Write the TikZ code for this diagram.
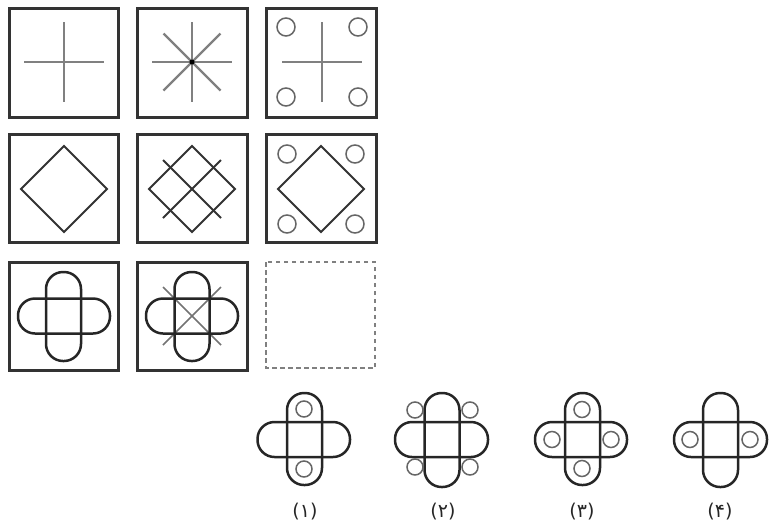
\documentclass[tikz,border=0pt]{standalone}
\usepackage{fontspec}
\newfontfamily\fadigits{DejaVu Sans}
\tikzset{
  frame/.style={draw=black!80, line width=3pt},
  emptyframe/.style={draw=black!50, line width=2.2pt, dash pattern=on 4.5pt off 3.5pt},
  fig/.style={draw=black!80, line width=2pt},
  greyline/.style={draw=black!50, line width=2.2pt},
  thinline/.style={draw=black!55, line width=1.5pt},
  ring/.style={draw=black!60, line width=1.5pt},
  pill/.style={draw=black!85, line width=2.5pt, rounded corners=17pt},
  answer/.style={font=\fadigits\fontsize{19}{22}\selectfont, text=black!85},
}
\begin{document}
\begin{tikzpicture}[x=1pt, y=-1pt]
  \useasboundingbox (0,0) rectangle (784,528);

  % ---- Rada 1 ----
  \draw[frame] (9.5,8) rectangle (118,117);
  \draw[greyline] (24,62) -- (104,62);
  \draw[greyline] (64,22) -- (64,102);
  \draw[frame] (137.5,8) rectangle (247.5,117);
  \draw[greyline] (152,62) -- (232,62);
  \draw[greyline] (192,22) -- (192,102);
  \draw[greyline] (163.5,33.5) -- (220.5,90.5);
  \draw[greyline] (220.5,33.5) -- (163.5,90.5);
  \fill[black] (192,62) circle (2.5);
  \draw[frame] (266,8) rectangle (376.5,117);
  \draw[greyline] (282,62) -- (362,62);
  \draw[greyline] (322,22) -- (322,102);
  \foreach \dx/\dy in {-36/-35,36/-35,-36/35,36/35}
    \draw[ring] (322+\dx,62+\dy) circle (9);

  % ---- Rada 2 ----
  \draw[frame] (9.5,134) rectangle (118,242);
  \draw[fig] (64,146) -- (107,189) -- (64,232) -- (21,189) -- cycle;
  \draw[frame] (137.5,134) rectangle (247.5,242);
  \draw[fig] (192,146) -- (235,189) -- (192,232) -- (149,189) -- cycle;
  \draw[fig] (163,160) -- (221,218);
  \draw[fig] (221,160) -- (163,218);
  \draw[frame] (266,134) rectangle (376.5,242);
  \draw[fig] (321,146) -- (364,189) -- (321,232) -- (278,189) -- cycle;
  \foreach \dx/\dy in {-34/-35,34/-35,-34/35,34/35}
    \draw[ring] (321+\dx,189+\dy) circle (9);

  % ---- Rada 3 ----
  \draw[frame] (9.5,262) rectangle (118,370);
  \draw[pill] (46,272) rectangle (81,361);
  \draw[pill] (18,298.5) rectangle (110,333.5);
  \draw[frame] (137.5,262) rectangle (247.5,370);
  \draw[thinline] (163,287) -- (221,345);
  \draw[thinline] (221,287) -- (163,345);
  \draw[pill] (174.5,272) rectangle (209.5,361);
  \draw[pill] (146,298.5) rectangle (238,333.5);
  \draw[emptyframe] (266,262) rectangle (375,368);

  % ---- Moznosti ----
  \draw[pill] (287,393) rectangle (322,485);
  \draw[pill] (257.5,422) rectangle (350,457);
  \draw[ring] (304,409) circle (8);
  \draw[ring] (304,469) circle (8);
  \node[answer] (opt1) at (305,512) {(۱)};

  \draw[pill] (424.5,393) rectangle (459.5,487);
  \draw[pill] (395,422) rectangle (488,457);
  \foreach \dx/\dy in {-27/-29,28/-29,-27/28,28/28}
    \draw[ring] (442+\dx,439+\dy) circle (8);
  \node[answer] (opt2) at (443,512) {(۲)};

  \draw[pill] (565,393) rectangle (600,485);
  \draw[pill] (535,422) rectangle (627,457);
  \foreach \dx/\dy in {0/-30,0/29,-30/0,29/0}
    \draw[ring] (582+\dx,439.5+\dy) circle (8);
  \node[answer] (opt3) at (582,512) {(۳)};

  \draw[pill] (703,393) rectangle (738,487);
  \draw[pill] (674,422) rectangle (767,457);
  \draw[ring] (690,439.5) circle (8);
  \draw[ring] (750,439.5) circle (8);
  \node[answer] (opt4) at (720,512) {(۴)};
\end{tikzpicture}
\end{document}
